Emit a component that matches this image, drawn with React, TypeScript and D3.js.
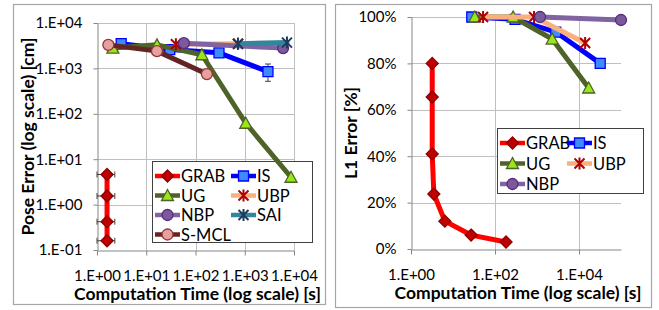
import { useRef, useEffect } from "react";
import * as d3 from "d3";

// ---- left panel: pose error vs computation time ----
const poseNames = ["GRAB", "IS", "UG", "UBP", "NBP", "SAI", "S-MCL"];
const grabPoseTime = [1.6, 1.6, 1.6, 1.6];
const grabPoseErr = [4.6, 1.55, 0.42, 0.16];
const grabPoseTimeLo = [1.0, 1.0, 1.0, 1.0];
const grabPoseTimeHi = [2.3, 2.3, 2.3, 2.3];
const isPoseTime = [3.1, 30, 300, 2960];
const isPoseErr = [3500, 2600, 2200, 850];
const isPoseErrLo = [3500, 2600, 2200, 520];
const isPoseErrHi = [3500, 2600, 2200, 1250];
const ugPoseTime = [2.1, 16.5, 135, 1050, 8700];
const ugPoseErr = [2800, 3300, 2000, 62, 4.0];
const ubpPoseTime = [40, 730];
const ubpPoseErr = [3400, 3500];
const nbpPoseTime = [58, 6000];
const nbpPoseErr = [3600, 2800];
const nbpPoseErrLo = [3600, 2300];
const nbpPoseErrHi = [3600, 3200];
const saiPoseTime = [730, 7200];
const saiPoseErr = [3500, 3700];
const smclPoseTime = [1.7, 16.5, 170];
const smclPoseErr = [3300, 2400, 750];
const poseXTicks = [1, 10, 100, 1000, 10000];
const poseYTicks = [0.1, 1, 10, 100, 1000, 10000];

// ---- right panel: L1 error vs computation time ----
const l1Names = ["GRAB", "IS", "UG", "UBP", "NBP"];
const grabL1Time = [3.2, 3.2, 3.2, 3.5, 6.4, 27, 183];
const grabL1Err = [80, 65.5, 41, 23.7, 12, 6, 3];
const isL1Time = [28, 300, 2800, 32000];
const isL1Err = [100, 99, 93.5, 80];
const ugL1Time = [33, 270, 2300, 17000];
const ugL1Err = [100, 100, 90.5, 69.4];
const ubpL1Time = [52, 850, 14000];
const ubpL1Err = [100, 100, 88.8];
const nbpL1Time = [1180, 100000];
const nbpL1Err = [100, 98.7];
const l1XTicks = [1, 100, 10000];
const l1YTicks = [0, 20, 40, 60, 80, 100];

type Marker = "diamond" | "square" | "triangle" | "star" | "circle";
const styles: Record<string, { line: string; fill: string; stroke: string; marker: Marker }> = {
  GRAB: { line: "#ff0000", fill: "#c00000", stroke: "#8c0000", marker: "diamond" },
  IS: { line: "#0000ff", fill: "#3d8bff", stroke: "#0000ff", marker: "square" },
  UG: { line: "#4f6228", fill: "#99e619", stroke: "#4f6228", marker: "triangle" },
  UBP: { line: "#fab07a", fill: "none", stroke: "#b00000", marker: "star" },
  NBP: { line: "#8064a2", fill: "#7a5a9c", stroke: "#5a2a78", marker: "circle" },
  SAI: { line: "#31859c", fill: "none", stroke: "#1f3a5c", marker: "star" },
  "S-MCL": { line: "#632523", fill: "#e6a0a0", stroke: "#943634", marker: "circle" },
};

type Series = {
  name: string;
  x: number[];
  y: number[];
  xLo?: number[];
  xHi?: number[];
  yLo?: number[];
  yHi?: number[];
};

const poseSeries: Series[] = [
  { name: poseNames[0], x: grabPoseTime, y: grabPoseErr, xLo: grabPoseTimeLo, xHi: grabPoseTimeHi },
  { name: poseNames[1], x: isPoseTime, y: isPoseErr, yLo: isPoseErrLo, yHi: isPoseErrHi },
  { name: poseNames[2], x: ugPoseTime, y: ugPoseErr },
  { name: poseNames[3], x: ubpPoseTime, y: ubpPoseErr },
  { name: poseNames[4], x: nbpPoseTime, y: nbpPoseErr, yLo: nbpPoseErrLo, yHi: nbpPoseErrHi },
  { name: poseNames[5], x: saiPoseTime, y: saiPoseErr },
  { name: poseNames[6], x: smclPoseTime, y: smclPoseErr },
];

const l1Series: Series[] = [
  { name: l1Names[0], x: grabL1Time, y: grabL1Err },
  { name: l1Names[1], x: isL1Time, y: isL1Err },
  { name: l1Names[2], x: ugL1Time, y: ugL1Err },
  { name: l1Names[3], x: ubpL1Time, y: ubpL1Err },
  { name: l1Names[4], x: nbpL1Time, y: nbpL1Err },
];

const FONT = "Lato, 'Liberation Sans', sans-serif";

function drawMarker(g: any, name: string, cx: number, cy: number) {
  const s = styles[name];
  if (s.marker === "star") {
    const r = 5;
    g.append("path")
      .attr("d", `M${cx - r},${cy - r}L${cx + r},${cy + r}M${cx - r},${cy + r}L${cx + r},${cy - r}M${cx},${cy - r - 1}L${cx},${cy + r + 1}`)
      .attr("stroke", s.stroke)
      .attr("stroke-width", 2)
      .attr("fill", "none");
    return;
  }
  let d: string;
  if (s.marker === "diamond") {
    const r = 6;
    d = `M0,${-r}L${r},0L0,${r}L${-r},0Z`;
  } else if (s.marker === "square") {
    d = "M-5,-5H5V5H-5Z";
  } else if (s.marker === "triangle") {
    d = "M0,-6L6,5H-6Z";
  } else {
    d = d3.symbol(d3.symbolCircle, 95)()!;
  }
  g.append("path")
    .attr("d", d)
    .attr("transform", `translate(${cx},${cy})`)
    .attr("fill", s.fill)
    .attr("stroke", s.stroke)
    .attr("stroke-width", 1.3);
}

type PanelProps = {
  series: Series[];
  box: [number, number, number, number];
  plot: [number, number, number, number];
  xDomain: [number, number];
  xTicks: number[];
  yLog: boolean;
  yDomain: [number, number];
  yTicks: number[];
  yFormat: (v: number) => string;
  yTitle: string;
  yTitleX: number;
  vGrid: number[];
  legend: { x: number; y: number; w: number; h: number; col2: number; row: number };
};

function Panel(p: PanelProps) {
  const ref = useRef<SVGGElement>(null);

  useEffect(() => {
    if (!ref.current) return;
    const g = d3.select(ref.current);
    g.selectAll("*").remove();

    const [bx0, by0, bx1, by1] = p.box;
    const [px0, py0, px1, py1] = p.plot;

    const x = d3.scaleLog().domain(p.xDomain).range([px0, px1]);
    const y = p.yLog
      ? d3.scaleLog().domain(p.yDomain).range([py1, py0])
      : d3.scaleLinear().domain(p.yDomain).range([py1, py0]);

    // outer frame
    g.append("rect")
      .attr("x", bx0 + 0.5).attr("y", by0 + 0.5)
      .attr("width", bx1 - bx0).attr("height", by1 - by0)
      .attr("fill", "white").attr("stroke", "#a6a6a6").attr("stroke-width", 1.2);

    // gridlines
    p.yTicks.forEach((t) => {
      if (Math.abs(y(t) - py1) < 1) return;
      g.append("line")
        .attr("x1", px0).attr("x2", px1)
        .attr("y1", Math.round(y(t)) + 0.5).attr("y2", Math.round(y(t)) + 0.5)
        .attr("stroke", "#bfbfbf");
    });
    p.vGrid.forEach((t) => {
      g.append("line")
        .attr("x1", Math.round(x(t)) + 0.5).attr("x2", Math.round(x(t)) + 0.5)
        .attr("y1", py0).attr("y2", py1)
        .attr("stroke", "#bfbfbf");
    });

    // axes
    const xAxis = g.append("g").attr("transform", `translate(0,${Math.round(py1) + 0.5})`)
      .call(d3.axisBottom(x).tickValues(p.xTicks).tickSize(5).tickSizeOuter(0)
        .tickFormat((d) => "1.E+" + String(Math.round(Math.log10(d as number))).padStart(2, "0")));
    xAxis.attr("font-size", null).attr("font-family", null);
    xAxis.select(".domain").attr("stroke", "#868686");
    xAxis.selectAll(".tick line").attr("stroke", "#868686");
    xAxis.selectAll(".tick text")
      .attr("y", 20).attr("fill", "#000").style("font-size", "15px").style("font-family", FONT);

    const yAxis = g.append("g").attr("transform", `translate(${Math.round(px0) + 0.5},0)`)
      .call(d3.axisLeft(y as any).tickValues(p.yTicks).tickSize(4).tickSizeOuter(0)
        .tickFormat((d: any) => p.yFormat(d as number)));
    yAxis.attr("font-size", null).attr("font-family", null);
    yAxis.select(".domain").attr("stroke", "#868686");
    yAxis.selectAll(".tick line").attr("stroke", "#868686");
    yAxis.selectAll(".tick text")
      .attr("x", -15).attr("fill", "#000").style("font-size", "15px").style("font-family", FONT);

    // titles
    g.append("text")
      .attr("x", (px0 + px1) / 2 + 2).attr("y", py1 + 50)
      .attr("text-anchor", "middle").style("font-size", "17.5px").attr("font-weight", "bold")
      .style("font-family", FONT).text("Computation Time (log scale) [s]");
    g.append("text")
      .attr("transform", `translate(${p.yTitleX},${(py0 + py1) / 2}) rotate(-90)`)
      .attr("text-anchor", "middle").style("font-size", "17.5px").attr("font-weight", "bold")
      .style("font-family", FONT).text(p.yTitle);

    // legend (drawn under the series, as in the original)
    const L = p.legend;
    g.append("rect")
      .attr("x", L.x + 0.5).attr("y", L.y + 0.5).attr("width", L.w).attr("height", L.h)
      .attr("fill", "white").attr("stroke", "#404040").attr("stroke-width", 1);
    p.series.forEach((s, i) => {
      const col = i % 2, row = Math.floor(i / 2);
      const lx = L.x + 3 + col * L.col2;
      const ly = L.y + 15 + row * L.row;
      const st = styles[s.name];
      g.append("line")
        .attr("x1", lx).attr("x2", lx + 25).attr("y1", ly).attr("y2", ly)
        .attr("stroke", st.line).attr("stroke-width", 4.5);
      drawMarker(g, s.name, lx + 12.5, ly);
      g.append("text")
        .attr("x", lx + 26).attr("y", ly + 6)
        .style("font-size", "16.5px").style("font-family", FONT).text(s.name);
    });

    // series
    p.series.forEach((s) => {
      const st = styles[s.name];
      const pts = s.x.map((xv, i) => [x(xv), y(s.y[i])] as [number, number]);
      // error bars
      const eg = g.append("g").attr("stroke", "#404040").attr("stroke-width", 1);
      s.x.forEach((xv, i) => {
        const cx = x(xv), cy = y(s.y[i]);
        if (s.xLo && s.xHi) {
          const a = x(s.xLo[i]), b = x(s.xHi[i]);
          eg.append("line").attr("x1", a).attr("x2", b).attr("y1", cy).attr("y2", cy);
          eg.append("line").attr("x1", a).attr("x2", a).attr("y1", cy - 3).attr("y2", cy + 3);
          eg.append("line").attr("x1", b).attr("x2", b).attr("y1", cy - 3).attr("y2", cy + 3);
        }
        if (s.yLo && s.yHi && s.yLo[i] !== s.yHi[i]) {
          const a = y(s.yLo[i]), b = y(s.yHi[i]);
          eg.append("line").attr("x1", cx).attr("x2", cx).attr("y1", a).attr("y2", b);
          eg.append("line").attr("x1", cx - 3).attr("x2", cx + 3).attr("y1", a).attr("y2", a);
          eg.append("line").attr("x1", cx - 3).attr("x2", cx + 3).attr("y1", b).attr("y2", b);
        }
      });
      g.append("path")
        .attr("d", d3.line()(pts)!)
        .attr("fill", "none").attr("stroke", st.line).attr("stroke-width", 5)
        .attr("stroke-linejoin", "round").attr("stroke-linecap", "round");
      const mg = g.append("g");
      pts.forEach(([cx, cy]) => drawMarker(mg, s.name, cx, cy));
    });
  }, [p]);

  return <g ref={ref} />;
}

const poseProps: PanelProps = {
  series: poseSeries,
  box: [13, 4, 325, 304],
  plot: [97, 23, 294, 250],
  xDomain: [1, 10000],
  xTicks: poseXTicks,
  yLog: true,
  yDomain: [0.1, 10000],
  yTicks: poseYTicks,
  yFormat: (v) => {
    const e = Math.round(Math.log10(v));
    return "1.E" + (e < 0 ? "-" : "+") + String(Math.abs(e)).padStart(2, "0");
  },
  yTitle: "Pose Error (log scale) [cm]",
  yTitleX: 34,
  vGrid: [10, 100, 1000, 10000],
  legend: { x: 152, y: 161, w: 160, h: 81, col2: 76, row: 19.5 },
};

const l1Props: PanelProps = {
  series: l1Series,
  box: [335, 4, 651, 307],
  plot: [411, 17, 621, 249],
  xDomain: [1, 100000],
  xTicks: l1XTicks,
  yLog: false,
  yDomain: [0, 100],
  yTicks: l1YTicks,
  yFormat: (v) => `${v}%`,
  yTitle: "L1 Error [%]",
  yTitleX: 357,
  vGrid: [100, 10000],
  legend: { x: 497, y: 128, w: 146, h: 65, col2: 67, row: 20.5 },
};

export default function App() {
  return (
    <svg width={659} height={310} style={{ position: "absolute", left: 0, top: 0, background: "white" }}>
      <Panel {...poseProps} />
      <Panel {...l1Props} />
    </svg>
  );
}
